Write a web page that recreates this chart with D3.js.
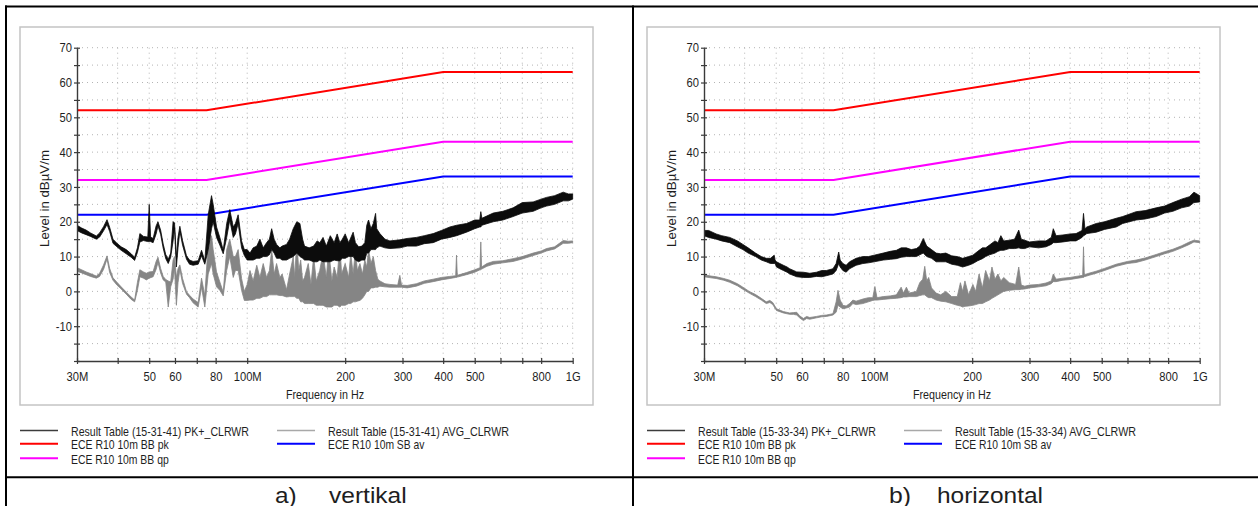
<!DOCTYPE html>
<html>
<head>
<meta charset="utf-8">
<script src="https://cdn.jsdelivr.net/npm/d3@7"></script>
<style>
	body { margin: 0; background: #fff; }
	svg { display: block; }
	text { font-family: "Liberation Sans", Arial, sans-serif; fill: #1e1e1e; }
</style>
</head>
<body>
<svg id="chart" width="1258" height="506"></svg>
<script>
// Grenzwerte ECE R10 (Frequenz in MHz, Pegel in dBµV/m)
const limitFreq = [30, 75, 400, 1000];
const limitBBpk = [52, 52, 63, 63];
const limitBBqp = [32, 32, 43, 43];
const limitSBav = [22, 22, 33, 33];

// Achsen
const xTickVals = [30, 40, 50, 60, 70, 80, 100, 200, 300, 400, 500, 600, 700, 800, 1000];
const xLabelVals = [30, 50, 60, 80, 100, 200, 300, 400, 500, 800, 1000];
const xLabelText = ['30M', '50', '60', '80', '100M', '200', '300', '400', '500', '800', '1G'];
const yTickVals = [-20, -15, -10, -5, 0, 5, 10, 15, 20, 25, 30, 35, 40, 45, 50, 55, 60, 65, 70];
const yLabelVals = [-10, 0, 10, 20, 30, 40, 50, 60, 70];

const captionTag = ['a)', 'b)'];
const captionWord = ['vertikal', 'horizontal'];
const runIds = ['15-31-41', '15-33-34'];

// Messkurven: [MHz, unterer Rand, oberer Rand]
const vertPk = [
	[30,17.5,19],[31,16.8,18.2],[32,16.3,17.6],[33,15.8,16.8],[34.4,15,15.9],[35.2,15.6,16.8],[36.2,17.4,18.6],
	[37.1,19.2,20.6],[37.8,17.2,18.4],[38.7,13.8,15],[39.8,12.8,13.8],[41,11.8,12.8],[42.5,10.8,12],[44,9.8,10.8],
	[45.1,8.9,9.8],[46,11.2,12.5],[46.8,14.2,16.6],[48,14.6,15.8],[49.5,14.3,15.6],[50,14.3,25],[50.5,14.3,15.6],
	[51.4,14,15.2],[52.5,16.5,18.8],[53.2,18.8,20],[54.2,16.4,17.6],[55.2,12.4,13.6],[56.2,9.4,10.6],[57.2,8,9.2],
	[58.2,9.8,11],[59.2,14.5,20],[59.8,18.3,19.7],[60.6,7,9.8],[61.3,12.5,15.5],[62.1,17.3,18.7],[63.3,13.3,14.6],
	[65.1,9.2,10.2],[66.5,7.8,9],[68.2,7.5,8.6],[70.7,7.8,8.8],[72.4,10.2,11.8],[74.1,7.8,8.8],[75.9,12,22],
	[77.7,18,27.5],[78.6,20,25],[80.5,15.5,18.5],[82.4,13.3,15.5],[84.4,10.8,11.8],[86.5,15.5,19.5],[88.4,20.5,23.5],
	[90.6,15.5,18.5],[92,16.5,19.5],[93.8,19.5,22],[96.1,12.5,14.5],[98,10.3,12],
	[100,9,12],[102,9,11],[104.3,9,12.5],[107,9.5,13],[109.4,9.5,15],[112,10,12.5],[114.7,10,14],[117,10.5,15],
	[118.9,12,18],[121,11,15],[123.1,9.5,13.5],[126,9.5,12.5],[128,9,13],[132.1,9,13.5],[135,9.5,15],[138.5,10,18],
	[142,11,20],[145.2,10,19.5],[148,9.5,15],[150,9,13],[155,9,12.5],[160,8.5,13],[164,8.5,14.5],[167.2,9,14],
	[171,8.5,15.5],[175,8.5,13],[180,8.5,16],[185,9,14],[189,8.8,16.5],[192.6,8.8,14],[196,9.5,15],[200,9.5,16.5],
	[205,10,14],[211.6,10,17],[215,9,14],[220,8.5,12.8],[225,9,13],[229.8,9,14],[233,11,19],[236,11,20.5],
	[240,12,18],[244,12,19.5],[248,12,22.4],[250,12.5,18],[255.6,13,16.6],
	[265,12.5,15],[274.4,12.3,14.5],[294.4,12.5,14.8],[310,13,15.2],[331,13,15.5],[350,13.7,16],[372.8,14,16.6],
	[395,15,17.5],[419.4,15.5,18.5],[440,16,19],[471.8,17,19.5],[500,18,20.5],[518,18.5,20.5],[522,18.5,22.9],
	[526,19,21],[569.9,20,22.5],[610,20.5,23],[656,21.5,24],[700,22.5,25.5],[756,23,25.7],[800,24,26.5],
	[831,24.5,27],[880,25,27.5],[935,26,28.5],[970,26,28],[1000,26.5,28]
];

const vertAvg = [
	[30,5.8,6.8],[31,5.3,6.2],[32,4.8,5.6],[33,4.3,5.1],[34.4,3.8,4.4],[35.2,4.3,5.2],[36.2,6.3,7.6],[37.1,9.3,10.2],
	[37.8,5.4,6.6],[38.7,3.2,3.9],[39.8,1.8,2.6],[41,0.7,1.3],[42.5,-0.8,-0.2],[44,-2.3,-1.6],[45.1,-3,-2.5],
	[46,0.3,2.6],[46.8,4.2,6.2],[48,3.8,5.6],[49,3.3,5.2],[50,3.8,5.6],[51.4,4.2,5.7],[52.5,6.3,8.6],[53.2,8.3,9.8],
	[54.2,5.3,6.6],[55.2,3.3,4.3],[56.2,2.7,3.4],[57.2,-4.5,3],[58.2,1.3,2.7],[59.2,3.5,9],[59.8,6.5,10],[60.6,-4,4],
	[61.3,2.5,6.5],[62.1,6.3,7.6],[63.3,2.3,3.7],[65.1,-0.8,-0.1],[66.5,-1.8,-1.1],[68.2,-3.3,-2.2],[70.7,-4.5,-3.2],
	[72.4,1.2,3.8],[74.1,-4.5,-1.2],[75.9,5,13.7],[77.7,8,16],[78.6,5,12],[80.5,1.3,5.6],[82.4,0.3,2.7],
	[84.4,-1.3,-0.2],[86.5,6,12],[88.4,10,15],[90.6,4,10],[92,6,10],[93.8,6,12],[96.1,0.3,3.7],[98,-2.6,0],
	[100,-2.6,2],[102,-2.5,6],[104.3,-2.5,3],[107,-2,7.5],[109.4,-2,4],[112,-1.5,8],[114.7,-1.5,4],
	[117,-1,6],[118.9,-1,12],[121,-1,5],[123.1,-1,8],[126,-1.2,4],[128,-1.2,5],[132.1,-1.6,0.5],[135,-1.5,5],
	[138.5,-1.5,10],[140,-1.5,4],[142,-2,15],[144,-2,6],[146,-3,9],[148,-3,3],[150,-3.5,4],[154,-3.5,8],
	[157,-3.5,2],[160,-3.5,10],[163,-4,3],[167,-4,6],[171,-4,11],[175,-4.5,4],[178,-4.5,12],[182,-4.5,3],
	[185,-4,7],[189,-4,4],[192.6,-4.5,13.7],[195,-4,5],[200,-4,8],[205,-3.5,4],[208,-3.5,11],[211.6,-3,5],
	[215,-3,12],[218,-2.8,6],[222,-2.6,8],[226,-2,5],[229.8,-1,9],[233,0,7],[236,0,12],[240,1,8],[244,1,10],
	[248,1.2,6],[252,1.2,3.5],
	[255.6,1.5,3],[265,1.3,2.2],[274.4,1.2,2],[290,1.2,1.8],[294.4,1.2,4.6],[298,1.2,1.8],[310,1,1.7],
	[331,1.5,2.2],[350,2.3,3],[372.8,2.8,3.5],[395,3.3,4],[419.4,3.7,4.3],[437,4,4.5],[439.6,4,10.4],
	[442,4.1,4.6],[471.8,4.8,5.4],[500,5.5,6.2],[519,6.2,6.8],[522,6.2,14.2],[525,6.4,7],[545,7.2,8],
	[569.9,7.8,8.6],[610,8.2,8.8],[656,8.6,9.4],[700,9.3,10],[756,10.3,11],[800,11,11.6],[831,11.6,12.3],
	[880,12.2,12.8],[935,13.8,14.6],[970,13.8,14.4],[1000,14,14.5]
];

const horzPk = [
	[30,16,17.5],[31,15.5,17.5],[32.7,15,16.5],[34,14.5,16],[36,14,15.5],[38,12.8,14.5],[39.5,12,13.5],
	[41,11,12.5],[43.2,10,11],[45,9,10],[46.6,8.5,9.5],[48,8,9.5],[49.3,8,10.4],[49.6,8,9],[50.1,7,8.5],
	[51.3,6.5,8],[52.6,6,7.5],[54,5.5,7],[55,5,6.5],[57.8,4.2,5.6],[60.6,4,5.5],[63.4,4,5.2],[66.5,4.3,5.5],
	[69,4.2,6],[71.3,4.5,6],[74.7,5,6.5],[76.4,6,8],[77.8,8,11.3],[78.6,7,9],[80.1,6,8],[82,5.5,7.5],
	[84,6.5,8.5],[88,7.5,9.5],[92.3,8,10],[96,8.2,10],[100,8.5,10.4],[106.6,9,11],[112,9.2,11.5],[117,9.4,11.8],
	[121,9.8,12.5],[125.6,10,12.5],[130,10,12],[134.8,10,12.3],[138,10.5,13],[141.5,11,15.2],[145,10,13],
	[150,9.5,12],[155,8.5,11],[160,8.5,10.8],[166,8.5,11],[173,7.8,10.2],[180,7.5,10],[187,7,9.5],[195,7.5,10],
	[201,8,10.4],[208,8.8,11.5],[215,9.4,12.5],[220,10,12.5],[226,10.5,13.3],[235,11,14.5],[240,11.5,14],
	[245,11.8,16],[250,11.8,14.5],[260,12.3,14.7],[270,12.3,15],[278,12.5,17.6],[283,12.3,15],[290,12.3,14.7],
	[300,12.8,14.2],[320,12.5,14.5],[337,12.8,14.5],[350,13.5,15.5],[355,14,18],[362,14,16],[380,14.2,16.2],
	[400,14.5,16.5],[417,14.5,16.6],[435,15.5,17.5],[439.6,16,22.4],[444,16.2,18],[450,16.6,18.5],[481,17,19.5],
	[510,17.8,20],[554,18.5,21],[580,19.5,21.5],[638,20.5,22.9],[680,20.8,23.2],[735,21.5,24],[780,22.5,24.5],
	[827,23,25.5],[880,24,26.5],[930,24.5,27.2],[960,25.5,28.5],[1000,25.7,27.5]
];

const horzAvg = [
	[30,4.2,4.8],[31.5,3.9,4.4],[32.7,3.7,4.2],[34.5,3.2,3.7],[36,2.6,3.2],[38,1.6,2.2],[39.5,0.6,1.2],
	[41.3,-0.5,0],[43.2,-1.5,-0.9],[45,-2.5,-2],[46.6,-3.5,-3],[47.8,-3.2,-2.6],[48.8,-3.8,-3.2],[50.1,-5.5,-5],
	[52.6,-6.2,-5.8],[55,-6.6,-6.2],[56.5,-6.6,-6.1],[57.8,-6.8,-6],[59,-7.6,-7],[60.6,-8.4,-7.8],[62,-7.8,-7.2],
	[63.4,-8,-7.5],[66.5,-7.6,-7.2],[69,-7.3,-6.9],[71.3,-7.2,-6.8],[74.7,-6.8,-6.4],[76.4,-6,-3],[77.4,-4,0.3],
	[78.6,-4.5,-2.5],[80.1,-5,-4],[82,-4.8,-4.2],[84,-4.5,-3.5],[86,-3.5,-2.5],[88,-3.8,-2.8],[92.3,-3.5,-2.2],
	[96,-3,-1.8],[99,-2.6,-1.8],[100.5,-2.5,1.4],[102,-2.5,-1.8],[106.6,-2.3,-1.5],[112,-2.1,-1.3],[117,-2,-1],
	[121,-1.8,1.2],[123,-1.6,-0.5],[125.6,-1.6,1.2],[128,-1.5,-0.5],[134.8,-1.5,0],[138,-1.2,2.5],[141,-1,3.5],
	[143,-1,7.2],[145,-1.5,3],[147,-1.8,4],[150,-1.8,1],[155,-2.5,-0.5],[160,-2.8,-1],[166,-3,0],[173,-3.5,-1.5],
	[180,-4,-1.5],[184,-4.2,2.5],[187,-4.5,0],[190,-4.3,3],[195,-4.2,-1],[201,-4,2],[205,-3.8,0],[210,-3.5,5],
	[215,-3.5,1],[220,-3,6],[226,-2.5,3],[230,-2,7],[235,-1.5,3.5],[240,-1,5],[245,-0.5,3],[250,0,4],
	[260,0.3,2.5],[272,0.5,2],[278,0.5,7],[283,0.6,1.8],[290,0.7,1.5],[300,1,1.8],[320,1.3,2],[337,1.6,2.4],
	[350,2.2,3],[355,2.8,5],[362,2.8,3.5],[380,3.2,3.8],[400,3.4,4],[417,3.7,4.3],[437,4,4.6],[439.6,4,12.8],
	[442,4.2,4.8],[460,4.7,5.3],[481,5.2,5.8],[510,6,6.6],[554,7.2,7.8],[600,8,8.6],[638,8.3,9],[680,9,9.6],
	[735,10,10.6],[780,10.8,11.4],[827,11.5,12.1],[880,12.5,13.1],[930,13.5,14.2],[960,14.2,14.7],[1000,14,14.5]
];

const panelTraces = [[vertPk, vertAvg], [horzPk, horzAvg]];
const panelDx = [0, 627];

const svg = d3.select('#chart');
const FONT = '"Liberation Sans", Arial, sans-serif';

function fitText(sel, len) {
	sel.attr('textLength', len).attr('lengthAdjust', 'spacingAndGlyphs');
}

function condense(sel, k) {
	sel.each(function() {
		const w = this.getComputedTextLength();
		this.setAttribute('textLength', w * k);
		this.setAttribute('lengthAdjust', 'spacingAndGlyphs');
	});
}

function drawPanel(i) {
	const g = svg.append('g').attr('transform', 'translate(' + panelDx[i] + ',0)');
	const pk = panelTraces[i][0], avg = panelTraces[i][1];

	// Diagrammrahmen
	g.append('rect')
		.attr('x', 20).attr('y', 27).attr('width', 573).attr('height', 378)
		.attr('fill', '#fff').attr('stroke', '#c4c4c4').attr('stroke-width', 1.5);

	const x = d3.scaleLog().domain([30, 1000]).range([77, 572.7]);
	const y = d3.scaleLinear().domain([-20, 70]).range([361, 47.7]);

	// Gitter
	const grid = g.append('g').attr('stroke', '#b4b4b4').attr('stroke-width', 1)
		.attr('stroke-dasharray', '1,4');
	grid.selectAll('line.h').data(yTickVals.filter(v => v > -20)).join('line')
		.attr('class', 'h')
		.attr('x1', x(30)).attr('x2', x(1000))
		.attr('y1', d => y(d)).attr('y2', d => y(d));
	grid.selectAll('line.v').data(xTickVals.filter(v => v > 30)).join('line')
		.attr('class', 'v')
		.attr('x1', d => x(d)).attr('x2', d => x(d))
		.attr('y1', y(70)).attr('y2', y(-20));

	g.append('clipPath').attr('id', 'clip' + i)
		.append('rect').attr('x', x(30)).attr('y', y(70) - 1)
		.attr('width', x(1000) - x(30) + 1).attr('height', y(-20) - y(70) + 1);
	const plot = g.append('g').attr('clip-path', 'url(#clip' + i + ')');

	// Grenzwertlinien
	const lim = d3.line().x(d => x(d[0])).y(d => y(d[1]));
	[[limitBBpk, '#ff0000'], [limitBBqp, '#ff00ff'], [limitSBav, '#0000ff']].forEach(function(l) {
		plot.append('path')
			.datum(limitFreq.map((f, j) => [f, l[0][j]]))
			.attr('d', lim).attr('fill', 'none')
			.attr('stroke', l[1]).attr('stroke-width', 2);
	});

	// Messkurven
	const band = d3.area().x(d => x(d[0])).y0(d => y(d[1])).y1(d => y(d[2]));
	plot.append('path').datum(avg).attr('d', band)
		.attr('fill', '#858585').attr('stroke', '#858585').attr('stroke-width', 0.8);
	plot.append('path').datum(pk).attr('d', band)
		.attr('fill', '#0c0c0c').attr('stroke', '#0c0c0c').attr('stroke-width', 0.8);

	// Achsen
	const yAxis = d3.axisLeft(y).tickValues(yTickVals).tickSize(3).tickSizeOuter(0).tickPadding(2)
		.tickFormat(d => yLabelVals.includes(d) ? String(d) : '');
	const yg = g.append('g').attr('transform', 'translate(' + x(30) + ',0)').call(yAxis);
	yg.selectAll('.tick line').attr('x1', 3);

	const xAxis = d3.axisBottom(x).tickValues(xTickVals).tickSize(3).tickSizeOuter(0).tickPadding(8)
		.tickFormat(d => { const k = xLabelVals.indexOf(d); return k < 0 ? '' : xLabelText[k]; });
	const xg = g.append('g').attr('transform', 'translate(0,' + y(-20) + ')').call(xAxis);
	xg.selectAll('.tick line').attr('y1', -3);

	[yg, xg].forEach(function(a) {
		a.attr('font-family', FONT).attr('font-size', 13);
		a.select('.domain').attr('stroke', '#3a3a3a').attr('stroke-width', 1.4);
		a.selectAll('.tick line').attr('stroke', '#3a3a3a').attr('stroke-width', 1.2);
		a.selectAll('.tick text').attr('fill', '#1e1e1e').call(condense, 0.86);
	});

	// Achsentitel
	g.append('text')
		.attr('transform', 'translate(49,198.5) rotate(-90)')
		.attr('text-anchor', 'middle').attr('font-size', 13)
		.text('Level in dBµV/m').call(fitText, 97);
	g.append('text')
		.attr('x', 325).attr('y', 399)
		.attr('text-anchor', 'middle').attr('font-size', 13)
		.text('Frequency in Hz').call(fitText, 78);

	// Legende
	const legend = [
		{ x: 20, y: 430.5, c: '#3c3c3c', w: 1.3, t: 'Result Table (' + runIds[i] + ') PK+_CLRWR', len: 178 },
		{ x: 20, y: 443.8, c: '#ff0000', w: 2, t: 'ECE R10 10m BB pk', len: 97.7 },
		{ x: 20, y: 458.3, c: '#ff00ff', w: 2, t: 'ECE R10 10m BB qp', len: 97.7 },
		{ x: 277, y: 430.5, c: '#a8a8a8', w: 1.3, t: 'Result Table (' + runIds[i] + ') AVG_CLRWR', len: 181 },
		{ x: 277, y: 443.8, c: '#0000ff', w: 2, t: 'ECE R10 10m SB av', len: 96.4 }
	];
	const lg = g.append('g').selectAll('g').data(legend).join('g');
	lg.append('line')
		.attr('x1', d => d.x).attr('x2', d => d.x + 38)
		.attr('y1', d => d.y).attr('y2', d => d.y)
		.attr('stroke', d => d.c).attr('stroke-width', d => d.w);
	lg.append('text')
		.attr('x', d => d.x + 51).attr('y', d => d.y + 5.6)
		.attr('font-size', 13)
		.attr('textLength', d => d.len).attr('lengthAdjust', 'spacingAndGlyphs')
		.text(d => d.t);
}

drawPanel(0);
drawPanel(1);

// Tabellenrahmen
const frame = svg.append('g').attr('stroke', '#000').attr('stroke-width', 2);
frame.append('line').attr('x1', 5).attr('x2', 1258).attr('y1', 6.5).attr('y2', 6.5);
frame.append('line').attr('x1', 6).attr('x2', 6).attr('y1', 5.5).attr('y2', 506);
frame.append('line').attr('x1', 633).attr('x2', 633).attr('y1', 5.5).attr('y2', 506);
frame.append('line').attr('x1', 5).attr('x2', 1258).attr('y1', 477.3).attr('y2', 477.3);

// Bildunterschriften
const capX = [[275, 329], [889, 937]];
const capLen = [[21.7, 77.7], [22, 106]];
[0, 1].forEach(function(i) {
	svg.append('text').attr('x', capX[i][0]).attr('y', 502.5).attr('font-size', 22)
		.text(captionTag[i]).call(fitText, capLen[i][0]);
	svg.append('text').attr('x', capX[i][1]).attr('y', 502.5).attr('font-size', 22)
		.text(captionWord[i]).call(fitText, capLen[i][1]);
});
</script>
</body>
</html>
